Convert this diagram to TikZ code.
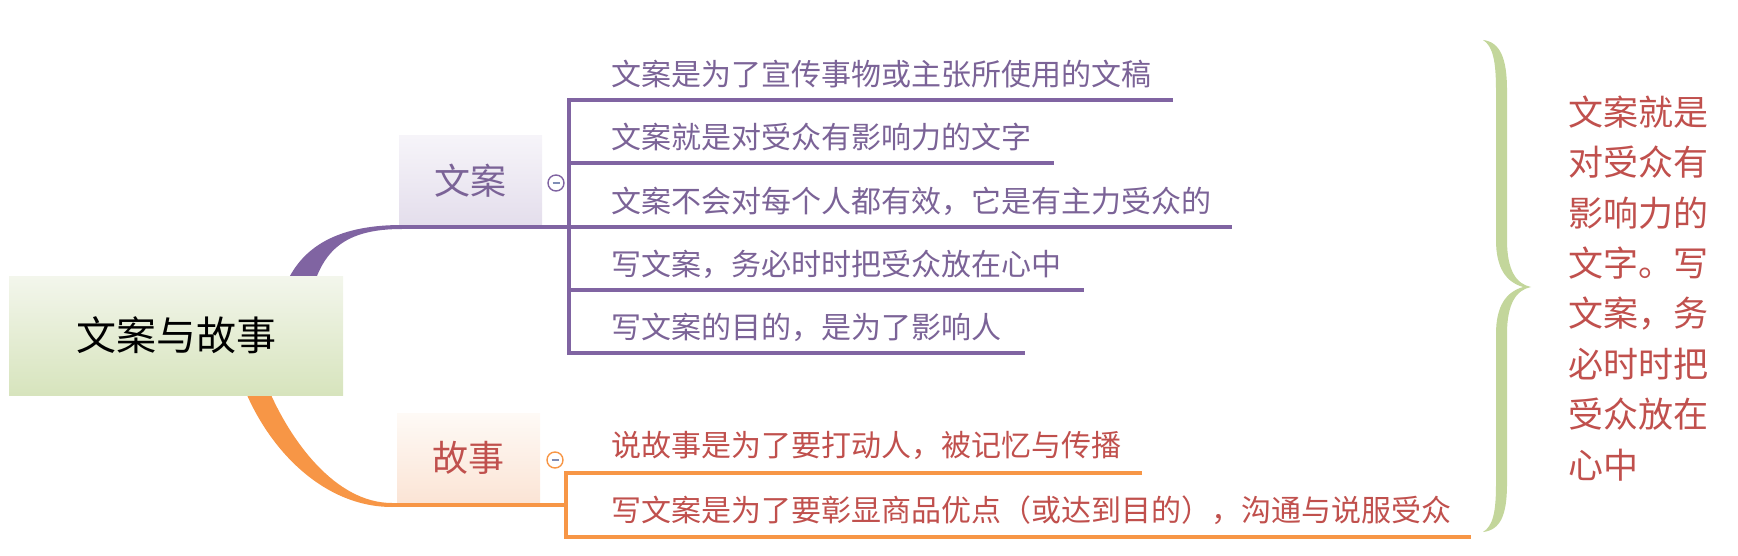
\documentclass[tikz,border=0pt]{standalone}
\usepackage{fontspec}
\setmainfont{Noto Sans CJK SC}
\definecolor{purpleL}{HTML}{8064A2}
\definecolor{purpleT}{HTML}{7B6397}
\definecolor{orangeL}{HTML}{F79646}
\definecolor{redT}{HTML}{C0504D}
\definecolor{braceG}{HTML}{C3D69B}
\definecolor{rootTop}{HTML}{F3F6EC}
\definecolor{rootBot}{HTML}{D7E4BD}
\definecolor{wTop}{HTML}{F6F4F9}
\definecolor{wBot}{HTML}{E4DEEC}
\definecolor{gTop}{HTML}{FEFAF6}
\definecolor{gBot}{HTML}{FBE4D5}
\definecolor{minusC}{HTML}{7F8DB5}
\tikzset{
  rootbox/.style={top color=rootTop, bottom color=rootBot, minimum width=334pt, minimum height=119pt, inner sep=0pt, text=black, font=\fontsize{40}{48}\selectfont},
  topicW/.style={top color=wTop, bottom color=wBot, minimum width=143pt, minimum height=89pt, inner sep=0pt, text=purpleT, font=\fontsize{36}{42}\selectfont},
  topicG/.style={top color=gTop, bottom color=gBot, minimum width=143pt, minimum height=90pt, inner sep=0pt, text=redT, font=\fontsize{36}{42}\selectfont},
  itemW/.style={anchor=west, inner sep=0pt, text=purpleT, font=\fontsize{30}{36}\selectfont},
  itemG/.style={anchor=west, inner sep=0pt, text=redT, font=\fontsize{30}{36}\selectfont},
  sidetext/.style={anchor=west, inner sep=0pt, text=redT, font=\fontsize{35}{50}\selectfont},
  collW/.style={circle, draw=purpleL, fill=white, line width=1.4pt, minimum size=16pt, inner sep=0pt},
  collG/.style={circle, draw=orangeL, fill=white, line width=1.4pt, minimum size=16pt, inner sep=0pt},
  minusbar/.style={draw=minusC, line width=1.6pt},
  pline/.style={draw=purpleL, line width=3.5pt},
  oline/.style={draw=orangeL, line width=3.5pt},
}
\begin{document}
\begin{tikzpicture}[x=1pt,y=-1pt]
\useasboundingbox (0,0) rectangle (1738,556);
% tapered branches
\fill[purpleL] (286,284) .. controls (304,243) and (343,225) .. (402,225) -- (402,229) .. controls (348,229) and (326,248) .. (314,284) -- cycle;
\fill[orangeL] (244,388) .. controls (270,452) and (325,507) .. (392,507) -- (392,503) .. controls (335,503) and (290,440) .. (268,388) -- cycle;
% nodes
\node[rootbox] (root) at (176,335.5) {文案与故事};
\node[topicW] (wa) at (470.5,180.5) {文案};
\node[topicG] (gs) at (468.5,458) {故事};
% coordinates of connectors
\coordinate (wj) at (398,227);
\coordinate (wv1) at (569,100);
\coordinate (wv2) at (569,163);
\coordinate (wv4) at (569,290);
\coordinate (wv5) at (569,353);
\coordinate (we1) at (1173,100);
\coordinate (we2) at (1054,163);
\coordinate (we3) at (1232,227);
\coordinate (we4) at (1084,290);
\coordinate (we5) at (1025,353);
\coordinate (gj) at (390,505);
\coordinate (gv) at (566,505);
\coordinate (gv1) at (566,473);
\coordinate (gv2) at (566,537);
\coordinate (ge1) at (1142,473);
\coordinate (ge2) at (1471,537);
% purple connectors
\draw[pline] (wj) -- (we3);
\draw[pline] (we1) -- (wv1) -- (wv5) -- (we5);
\draw[pline] (wv2) -- (we2);
\draw[pline] (wv4) -- (we4);
% orange connectors
\draw[oline] (gj) -- (gv);
\draw[oline] (ge1) -- (gv1) -- (gv2) -- (ge2);
% collapse markers
\node[collW] (cw) at (556,183) {};
\draw[minusbar] ([xshift=-3.5pt]cw.center) -- ([xshift=3.5pt]cw.center);
\node[collG] (cg) at (555,460) {};
\draw[minusbar] ([xshift=-3.5pt]cg.center) -- ([xshift=3.5pt]cg.center);
% items
\node[itemW] (w1) at (611,74) {文案是为了宣传事物或主张所使用的文稿};
\node[itemW] (w2) at (611,137) {文案就是对受众有影响力的文字};
\node[itemW] (w3) at (611,201) {文案不会对每个人都有效，它是有主力受众的};
\node[itemW] (w4) at (611,264) {写文案，务必时时把受众放在心中};
\node[itemW] (w5) at (611,327) {写文案的目的，是为了影响人};
\node[itemG] (g1) at (611,446) {说故事是为了要打动人，被记忆与传播};
\node[itemG] (g2) at (611,510) {写文案是为了要彰显商品优点（或达到目的），沟通与说服受众};
% brace
\fill[braceG] (1483,40) .. controls (1500,42) and (1507,58) .. (1507,90) -- (1507,240)
  .. controls (1507,270) and (1516,284) .. (1531,287)
  .. controls (1516,290) and (1507,304) .. (1507,334) -- (1507,484)
  .. controls (1507,516) and (1500,530) .. (1483,532)
  .. controls (1493,526) and (1496,512) .. (1496,484) -- (1496,334)
  .. controls (1496,306) and (1506,292) .. (1523,287)
  .. controls (1506,282) and (1496,268) .. (1496,240) -- (1496,90)
  .. controls (1496,62) and (1493,46) .. (1483,40) -- cycle;
% side text
\foreach \t [count=\i] in {文案就是,对受众有,影响力的,文字。写,文案，务,必时时把,受众放在,心中}
  \node[sidetext] (s\i) at (1568,{112+50.4*(\i-1)}) {\t};
\end{tikzpicture}
\end{document}
